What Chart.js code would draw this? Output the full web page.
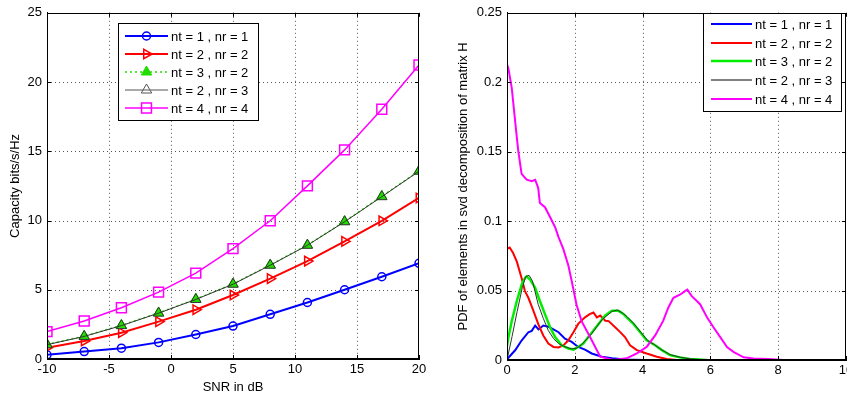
<!DOCTYPE html>
<html>
<head>
<meta charset="utf-8">
<script src="https://cdn.jsdelivr.net/npm/chart.js@4.4.1/dist/chart.umd.min.js"></script>
<style>
  html, body { margin: 0; padding: 0; background: #fff; overflow: hidden; width: 847px; height: 394px; }
  #leftWrap { position: absolute; left: 0; top: 0; width: 430px; height: 394px; }
  #rightWrap { position: absolute; left: 430px; top: 0; width: 430px; height: 394px; }
</style>
</head>
<body>
<div id="leftWrap"><canvas id="capacityChart" width="430" height="394"></canvas></div>
<div id="rightWrap"><canvas id="pdfChart" width="430" height="394"></canvas></div>
<script>
// ---- left plot: capacity vs SNR ----
const snrDb = [-10, -7, -4, -1, 2, 5, 8, 11, 14, 17, 20];
const cap11 = [0.30, 0.54, 0.78, 1.20, 1.77, 2.38, 3.23, 4.08, 5.00, 5.94, 6.91];
const cap22 = [0.82, 1.30, 1.90, 2.70, 3.56, 4.62, 5.80, 7.07, 8.49, 9.98, 11.63];
const cap32 = [1.06, 1.65, 2.43, 3.33, 4.32, 5.42, 6.79, 8.23, 9.93, 11.75, 13.58];
const cap23 = [1.03, 1.63, 2.41, 3.31, 4.30, 5.40, 6.77, 8.21, 9.91, 11.72, 13.56];
const cap44 = [1.98, 2.74, 3.70, 4.83, 6.20, 7.97, 9.98, 12.50, 15.10, 18.04, 21.23];

// ---- right plot: pdf of singular values ----
const pdf11X = [0, 0.02, 0.24, 0.43, 0.63, 0.73, 0.83, 0.93, 1.07, 1.22, 1.37, 1.52, 1.71, 1.91, 2.1, 2.3, 2.5, 2.8, 3.1, 3.5, 4.0];
const pdf11Y = [0, 0.001, 0.007, 0.014, 0.020, 0.021, 0.0248, 0.022, 0.0248, 0.024, 0.022, 0.020, 0.0153, 0.013, 0.0094, 0.0075, 0.0047, 0.0024, 0.0012, 0.0004, 0];

const pdf22X = [0, 0.08, 0.18, 0.29, 0.43, 0.53, 0.63, 0.78, 0.92, 1.07, 1.22, 1.37, 1.52, 1.67, 1.81, 1.96, 2.1, 2.3, 2.44, 2.55, 2.65, 2.75, 2.9, 3.0, 3.19, 3.34, 3.48, 3.63, 3.83, 4.12, 4.42, 4.71, 5.0];
const pdf22Y = [0.080, 0.081, 0.077, 0.0708, 0.059, 0.0496, 0.0448, 0.0354, 0.026, 0.0177, 0.0118, 0.0094, 0.009, 0.0106, 0.0142, 0.020, 0.026, 0.0307, 0.033, 0.0342, 0.0307, 0.032, 0.0283, 0.028, 0.0236, 0.0201, 0.0165, 0.0106, 0.0071, 0.0047, 0.0024, 0.0007, 0];

const pdf32X = [0, 0.04, 0.14, 0.29, 0.43, 0.53, 0.58, 0.68, 0.83, 0.97, 1.12, 1.27, 1.42, 1.61, 1.81, 1.96, 2.1, 2.25, 2.4, 2.55, 2.7, 2.89, 3.09, 3.29, 3.44, 3.53, 3.73, 3.93, 4.12, 4.37, 4.57, 4.81, 5.1, 5.4, 5.9];
const pdf32Y = [0.010, 0.016, 0.028, 0.0425, 0.054, 0.059, 0.0602, 0.058, 0.052, 0.0425, 0.033, 0.0236, 0.0165, 0.0106, 0.0083, 0.0075, 0.0094, 0.0118, 0.0165, 0.0212, 0.026, 0.0319, 0.0354, 0.0354, 0.033, 0.0307, 0.026, 0.020, 0.0142, 0.0106, 0.0071, 0.0035, 0.0019, 0.0007, 0];

const pdf23X = [0, 0.15, 0.3, 0.45, 0.55, 0.65, 0.75, 0.92, 1.07, 1.22, 1.37, 1.52, 1.71, 1.91, 2.05, 2.2, 2.35, 2.5, 2.65, 2.8, 2.95, 3.1, 3.25, 3.4, 3.55, 3.75, 3.95, 4.15, 4.35, 4.55, 4.8, 5.1, 5.4, 5.9];
const pdf23Y = [0, 0.017, 0.035, 0.052, 0.060, 0.061, 0.057, 0.040, 0.030, 0.0212, 0.0155, 0.0118, 0.0095, 0.008, 0.0085, 0.011, 0.015, 0.019, 0.024, 0.029, 0.032, 0.035, 0.036, 0.034, 0.031, 0.026, 0.020, 0.014, 0.011, 0.0075, 0.004, 0.002, 0.0008, 0];

const pdf44X = [0, 0.04, 0.14, 0.24, 0.33, 0.43, 0.58, 0.73, 0.83, 0.92, 0.97, 1.12, 1.27, 1.42, 1.52, 1.66, 1.81, 1.91, 2.05, 2.2, 2.45, 2.75, 3.14, 3.53, 3.83, 4.12, 4.37, 4.61, 4.76, 4.91, 5.1, 5.25, 5.32, 5.45, 5.6, 5.7, 5.9, 6.09, 6.29, 6.49, 6.68, 6.98, 7.27, 7.7, 8.15];
const pdf44Y = [0.213, 0.210, 0.196, 0.172, 0.151, 0.134, 0.1298, 0.1287, 0.1298, 0.124, 0.113, 0.110, 0.103, 0.0956, 0.0885, 0.080, 0.068, 0.0567, 0.040, 0.028, 0.0165, 0.0024, 0, 0.0012, 0.0047, 0.0094, 0.0177, 0.0283, 0.0378, 0.0448, 0.047, 0.0496, 0.0507, 0.046, 0.0425, 0.040, 0.0307, 0.0236, 0.0165, 0.0094, 0.0059, 0.0019, 0.001, 0.0008, 0];

const seriesNames = ["nt = 1 , nr = 1", "nt = 2 , nr = 2", "nt = 3 , nr = 2", "nt = 2 , nr = 3", "nt = 4 , nr = 4"];

const FONT = "'Liberation Sans', Arial, sans-serif";
const noFill = "rgba(0,0,0,0)";

function pairs(xs, ys) {
  return xs.map((x, i) => ({ x: x, y: ys[i] }));
}

// dotted grid, box, inward ticks, axis titles and legend drawn like matlab does
const matlabFrame = {
  id: "matlabFrame",
  beforeDatasetsDraw(chart) {
    const ctx = chart.ctx;
    const a = chart.chartArea;
    const sx = chart.scales.x, sy = chart.scales.y;
    ctx.save();
    ctx.strokeStyle = "#555";
    ctx.lineWidth = 1;
    ctx.setLineDash([1, 3]);
    ctx.beginPath();
    sx.ticks.forEach(t => {
      const px = Math.round(sx.getPixelForValue(t.value)) + 0.5;
      if (px < a.left + 2 || px > a.right - 2) return;
      ctx.moveTo(px, a.top); ctx.lineTo(px, a.bottom);
    });
    sy.ticks.forEach(t => {
      const py = Math.round(sy.getPixelForValue(t.value)) + 0.5;
      if (py < a.top + 2 || py > a.bottom - 2) return;
      ctx.moveTo(a.left, py); ctx.lineTo(a.right, py);
    });
    ctx.stroke();
    ctx.restore();
  },
  afterDraw(chart, args, opts) {
    const ctx = chart.ctx;
    const a = chart.chartArea;
    const sx = chart.scales.x, sy = chart.scales.y;
    ctx.save();
    ctx.strokeStyle = "#000";
    ctx.lineWidth = 1;
    ctx.setLineDash([]);
    ctx.strokeRect(Math.round(a.left) + 0.5, Math.round(a.top) + 0.5, Math.round(a.right - a.left) - 1, Math.round(a.bottom - a.top) - 1);
    ctx.beginPath();
    sx.ticks.forEach(t => {
      const px = Math.round(sx.getPixelForValue(t.value)) + 0.5;
      ctx.moveTo(px, a.bottom); ctx.lineTo(px, a.bottom - 4);
      ctx.moveTo(px, a.top); ctx.lineTo(px, a.top + 4);
    });
    sy.ticks.forEach(t => {
      const py = Math.round(sy.getPixelForValue(t.value)) + 0.5;
      ctx.moveTo(a.left, py); ctx.lineTo(a.left + 4, py);
      ctx.moveTo(a.right, py); ctx.lineTo(a.right - 4, py);
    });
    ctx.stroke();

    ctx.fillStyle = "#000";
    ctx.font = "13px " + FONT;
    ctx.textAlign = "center";
    ctx.textBaseline = "middle";
    if (opts.xTitle) ctx.fillText(opts.xTitle, (a.left + a.right) / 2, opts.xTitleY);
    if (opts.yTitle) {
      ctx.save();
      ctx.translate(opts.yTitleX, (a.top + a.bottom) / 2);
      ctx.rotate(-Math.PI / 2);
      ctx.fillText(opts.yTitle, 0, 0);
      ctx.restore();
    }

    // legend
    const lg = opts.legend;
    ctx.fillStyle = "#fff";
    ctx.fillRect(lg.left, lg.top, lg.width, lg.height);
    ctx.strokeStyle = "#000";
    ctx.strokeRect(lg.left + 0.5, lg.top + 0.5, lg.width, lg.height);
    chart.data.datasets.forEach((ds, i) => {
      const y = lg.rowY[i];
      ctx.save();
      ctx.strokeStyle = ds.legendColor || ds.borderColor;
      ctx.lineWidth = ds.legendWidth || ds.borderWidth;
      ctx.setLineDash(ds.borderDash || []);
      ctx.beginPath();
      ctx.moveTo(lg.lineX0, y); ctx.lineTo(lg.lineX1, y);
      ctx.stroke();
      ctx.setLineDash([]);
      if (ds.pointRadius > 0 && Chart.helpers && Chart.helpers.drawPoint) {
        ctx.strokeStyle = ds.legendColor || ds.pointBorderColor || ds.borderColor;
        ctx.fillStyle = ds.pointBackgroundColor;
        ctx.lineWidth = ds.pointBorderWidth;
        Chart.helpers.drawPoint(ctx, {
          pointStyle: ds.pointStyle, radius: ds.pointRadius,
          rotation: ds.pointRotation || 0, borderWidth: ds.pointBorderWidth
        }, (lg.lineX0 + lg.lineX1) / 2, y);
      }
      ctx.restore();
      ctx.fillStyle = "#000";
      ctx.font = "13px " + FONT;
      ctx.textAlign = "left";
      ctx.textBaseline = "middle";
      ctx.fillText(seriesNames[i], lg.textX, y + 1);
    });
    ctx.restore();
  }
};

function axisOpts(min, max, step, fmt, width, height) {
  return {
    x: {
      type: "linear", min: min[0], max: max[0],
      ticks: { stepSize: step[0], color: "#000", font: { size: 13, family: FONT }, padding: 3, maxRotation: 0, callback: fmt[0] },
      grid: { display: true, drawOnChartArea: false, drawTicks: false },
      border: { display: true, color: "#000" },
      afterFit: s => { s.height = height; }
    },
    y: {
      type: "linear", min: min[1], max: max[1],
      ticks: { stepSize: step[1], color: "#000", font: { size: 13, family: FONT }, padding: 5, callback: fmt[1] },
      grid: { display: true, drawOnChartArea: false, drawTicks: false },
      border: { display: true, color: "#000" },
      afterFit: s => { s.width = width; }
    }
  };
}

new Chart(document.getElementById("capacityChart"), {
  type: "line",
  data: {
    datasets: [
      { data: pairs(snrDb, cap11), borderColor: "#0000ff", borderWidth: 2, pointStyle: "circle", pointRadius: 4, pointBorderWidth: 1.5, pointBackgroundColor: noFill, order: 5 },
      { data: pairs(snrDb, cap22), borderColor: "#ff0000", borderWidth: 2, pointStyle: "triangle", pointRotation: 90, pointRadius: 5.5, pointBorderWidth: 1.5, pointBackgroundColor: noFill, order: 4 },
      { data: pairs(snrDb, cap32), borderColor: "#22dd00", borderWidth: 1.5, borderDash: [2, 3], pointStyle: "triangle", pointRadius: 6, pointBorderWidth: 1, pointBackgroundColor: "#22dd00", order: 3 },
      { data: pairs(snrDb, cap23), borderColor: "#333333", legendColor: "#555555", borderWidth: 1, pointStyle: "triangle", pointRadius: 6, pointBorderWidth: 1, pointBackgroundColor: noFill, order: 2 },
      { data: pairs(snrDb, cap44), borderColor: "#ff00ff", borderWidth: 1.5, pointStyle: "rect", pointRadius: 7, pointBorderWidth: 1.5, pointBackgroundColor: noFill, order: 1 }
    ]
  },
  options: {
    responsive: false,
    animation: false,
    layout: { padding: { top: 7, right: 11, left: 0, bottom: 0 } },
    elements: { line: { tension: 0 } },
    scales: axisOpts([-10, 0], [20, 25], [5, 5], [v => v, v => v], 47, 35),
    plugins: {
      legend: { display: false },
      tooltip: { enabled: false },
      matlabFrame: {
        xTitle: "SNR in dB", xTitleY: 387,
        yTitle: "Capacity bits/s/Hz", yTitleX: 15,
        legend: { left: 118, top: 23, width: 140, height: 97, lineX0: 125, lineX1: 168, textX: 171, rowY: [36, 54, 72, 90, 108] }
      }
    }
  },
  plugins: [matlabFrame]
});

new Chart(document.getElementById("pdfChart"), {
  type: "line",
  data: {
    datasets: [
      { data: pairs(pdf11X, pdf11Y), borderColor: "#0000ff", borderWidth: 2, pointRadius: 0, order: 5 },
      { data: pairs(pdf22X, pdf22Y), borderColor: "#ff0000", borderWidth: 2, pointRadius: 0, order: 4 },
      { data: pairs(pdf32X, pdf32Y), borderColor: "#00ee00", borderWidth: 2.5, pointRadius: 0, order: 3 },
      { data: pairs(pdf23X, pdf23Y), borderColor: "#2a3a2a", legendColor: "#808080", legendWidth: 2, borderWidth: 1, pointRadius: 0, order: 2 },
      { data: pairs(pdf44X, pdf44Y), borderColor: "#ff00ff", borderWidth: 2, pointRadius: 0, order: 1 }
    ]
  },
  options: {
    responsive: false,
    animation: false,
    layout: { padding: { top: 7, right: 14, left: 0, bottom: 0 } },
    elements: { line: { tension: 0 } },
    scales: axisOpts([0, 0], [10, 0.25], [2, 0.05], [v => v, v => String(+(+v).toFixed(2))], 77, 34),
    plugins: {
      legend: { display: false },
      tooltip: { enabled: false },
      matlabFrame: {
        yTitle: "PDF of elements in svd decomposition of matrix H", yTitleX: 33,
        legend: { left: 273, top: 13, width: 138, height: 98, lineX0: 281, lineX1: 322, textX: 325, rowY: [24, 43, 61, 80, 99] }
      }
    }
  },
  plugins: [matlabFrame]
});
</script>
</body>
</html>
